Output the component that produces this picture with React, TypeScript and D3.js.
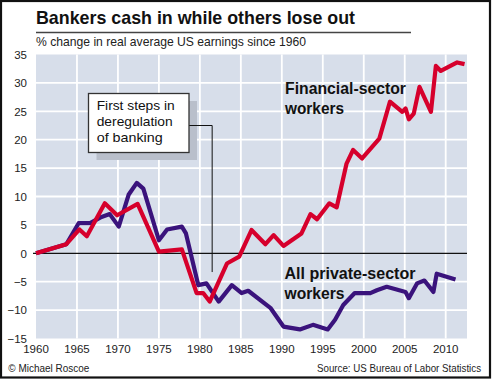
import React from "react";
import * as d3 from "d3";

const finYears = [1960, 1963.7, 1965.3, 1966.2, 1968.4, 1969.9, 1972.4, 1975, 1977.8, 1979.6, 1980.4, 1981.2, 1983.3, 1984.8, 1986.3, 1988, 1989, 1990.2, 1992.4, 1993.5, 1994.3, 1995.8, 1996.7, 1997.9, 1998.7, 1999.8, 2001.9, 2003.2, 2004.7, 2005.1, 2005.5, 2006.1, 2006.8, 2008.2, 2008.8, 2009.4, 2011.4, 2012.3];
const finValues = [0, 1.6, 4.2, 3.0, 8.8, 6.7, 8.7, 0.3, 0.7, -7.0, -7.0, -8.5, -1.8, -0.6, 4.1, 1.6, 3.2, 1.3, 3.5, 6.9, 6.0, 8.8, 8.1, 15.8, 18.2, 16.7, 20.2, 26.7, 24.9, 25.5, 23.6, 24.6, 29.3, 24.9, 33.0, 32.1, 33.6, 33.3];

const privYears = [1960, 1963.7, 1965.2, 1966.6, 1968, 1969, 1970.1, 1971.3, 1972.3, 1973.1, 1975, 1976, 1977.8, 1978.3, 1979.8, 1980.8, 1982.3, 1983.9, 1985.1, 1985.9, 1988.6, 1990.2, 1992.2, 1993.8, 1995.6, 1996.5, 1997.5, 1998.9, 2000.8, 2001.6, 2002.8, 2005.1, 2005.5, 2006.5, 2007.4, 2008.5, 2008.9, 2011.2];
const privValues = [0, 1.6, 5.3, 5.3, 6.4, 6.9, 4.7, 10.3, 12.4, 11.4, 2.3, 4.2, 4.7, 3.5, -5.6, -5.3, -8.5, -5.6, -7.0, -6.6, -9.6, -12.9, -13.4, -12.6, -13.4, -11.7, -9.1, -7.0, -7.0, -6.5, -5.9, -6.8, -7.9, -5.3, -4.8, -6.8, -3.6, -4.6];

const xTicks = [1960, 1965, 1970, 1975, 1980, 1985, 1990, 1995, 2000, 2005, 2010];
const yTicks = [35, 30, 25, 20, 15, 10, 5, 0, -5, -10, -15];

const title = "Bankers cash in while others lose out";
const subtitle = "% change in real average US earnings since 1960";
const noteLines = ["First steps in", "deregulation", "of banking"];
const noteYear = 1981.5;
const finLabel = ["Financial-sector", "workers"];
const privLabel = ["All private-sector", "workers"];
const credit = "\u00a9 Michael Roscoe";
const source = "Source: US Bureau of Labor Statistics";

const RED = "#d6002c";
const PURPLE = "#3a137c";
const BG = "#d7deea";
const FONT = "'Liberation Sans', Arial, sans-serif";

export default function App() {
  const x = d3.scaleLinear().domain([1960, 2012.6]).range([36, 467]);
  const y = d3.scaleLinear().domain([-15, 35]).range([338.5, 54.5]);

  const line = d3
    .line<[number, number]>()
    .x((d) => x(d[0]))
    .y((d) => y(d[1]));

  const finData = finYears.map((yr, i) => [yr, finValues[i]] as [number, number]);
  const privData = privYears.map((yr, i) => [yr, privValues[i]] as [number, number]);

  const [x0, x1] = x.range();
  const [yb, yt] = y.range();

  const boxX = 88.5, boxY = 93.5, boxW = 100.5, boxH = 59;
  const lx = x(noteYear);

  return (
    <svg width={492} height={379} style={{ position: "absolute", left: 0, top: 0, display: "block" }} fontFamily={FONT}>
      <rect x={0} y={0} width={492} height={379} fill="#fff" />
      {/* title */}
      <text x={36} y={24} fontSize={19} fontWeight="bold" fill="#111" textLength={319} lengthAdjust="spacingAndGlyphs">
        {title}
      </text>
      <line x1={36} x2={411} y1={32.5} y2={32.5} stroke="#444" strokeWidth={1.6} />
      <text x={36} y={45.5} fontSize={13} fill="#222" textLength={270} lengthAdjust="spacingAndGlyphs">
        {subtitle}
      </text>

      {/* plot background */}
      <rect x={x0} y={yt} width={x1 - x0} height={yb - yt} fill={BG} />
      {xTicks.slice(1).map((t) => (
        <line key={"vx" + t} x1={x(t)} x2={x(t)} y1={yt} y2={yb} stroke="#fff" strokeWidth={1.8} />
      ))}
      {yTicks.filter((t) => t > -15 && t < 35 && t !== 0).map((t) => (
        <line key={"hy" + t} x1={x0} x2={x1} y1={y(t)} y2={y(t)} stroke="#fff" strokeWidth={1.8} />
      ))}
      <line x1={33} x2={x1} y1={y(0)} y2={y(0)} stroke="#111" strokeWidth={1.2} />

      {/* axis labels */}
      {yTicks.map((t) => (
        <text key={"yl" + t} x={27} y={y(t) + 4.2} fontSize={11.5} fill="#222" textAnchor="end">
          {t < 0 ? "\u2212" + Math.abs(t) : String(t)}
        </text>
      ))}
      {xTicks.map((t) => (
        <text key={"xl" + t} x={x(t)} y={352.5} fontSize={11.5} fill="#222" textAnchor="middle">
          {t}
        </text>
      ))}

      {/* annotation */}
      <rect x={boxX + 8} y={boxY + 7.5} width={boxW} height={boxH} fill="#b9bfcb" />
      <polyline
        points={`${boxX + boxW},${y(22.5)} ${lx},${y(22.5)} ${lx},${y(-3.3)}`}
        fill="none"
        stroke="#111"
        strokeWidth={1}
      />
      <rect x={boxX} y={boxY} width={boxW} height={boxH} fill="#fff" stroke="#333" strokeWidth={1.3} />
      {noteLines.map((s, i) => (
        <text key={"n" + i} x={96.7} y={110 + i * 15.8} fontSize={13.5} fill="#111"
          textLength={[78, 76, 66][i]} lengthAdjust="spacingAndGlyphs">
          {s}
        </text>
      ))}

      {/* series */}
      <path d={line(privData) || ""} fill="none" stroke={PURPLE} strokeWidth={4.2} strokeLinejoin="round" strokeLinecap="butt" />
      <path d={line(finData) || ""} fill="none" stroke={RED} strokeWidth={4.2} strokeLinejoin="round" strokeLinecap="butt" />

      {/* series labels */}
      {finLabel.map((s, i) => (
        <text key={"fl" + i} x={285} y={94 + i * 20} fontSize={17} fontWeight="bold" fill="#111"
          textLength={[121, 59][i]} lengthAdjust="spacingAndGlyphs">
          {s}
        </text>
      ))}
      {privLabel.map((s, i) => (
        <text key={"pl" + i} x={284.5} y={278.5 + i * 20.5} fontSize={17} fontWeight="bold" fill="#111"
          textLength={[131, 60][i]} lengthAdjust="spacingAndGlyphs">
          {s}
        </text>
      ))}

      {/* footer */}
      <text x={8.3} y={371.5} fontSize={11.5} fill="#222" textLength={81} lengthAdjust="spacingAndGlyphs">
        {credit}
      </text>
      <text x={317} y={371.5} fontSize={10.4} fill="#222" textLength={164} lengthAdjust="spacingAndGlyphs">
        {source}
      </text>

      {/* frame */}
      <rect x={1} y={1} width={489} height={376.5} fill="none" stroke="#111" strokeWidth={2.2} />
    </svg>
  );
}
